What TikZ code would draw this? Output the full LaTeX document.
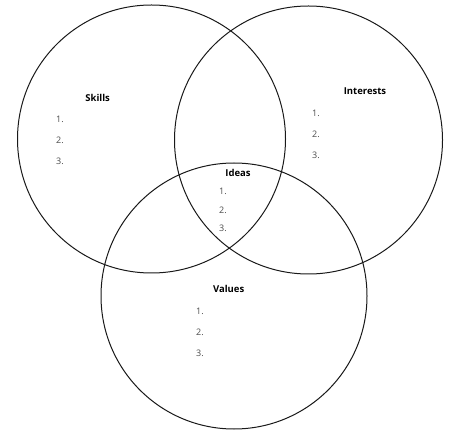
\documentclass[tikz,border=0pt]{standalone}
\usepackage{fontspec}
\setmainfont{Open Sans}
\begin{document}
\begin{tikzpicture}[x=1pt, y=-1pt,
    ring/.style={line width=1pt, black!90},
    head/.style={font=\bfseries\fontsize{9.5}{11}\selectfont},
    num/.style={text=black!70, font=\fontsize{9}{10}\selectfont}]
    \useasboundingbox (0,0) rectangle (468,435);

    % the three circles
    \draw[ring] (151.5,139) circle (134pt);
    \draw[ring] (308.5,140) circle (134pt);
    \draw[ring] (234,296) circle (133pt);

    % Skills
    \node[head] (skills) at (97.7,97.5) {Skills};
    \node[num] (skills1) at (60,119) {1.};
    \node[num] (skills2) at (60,140) {2.};
    \node[num] (skills3) at (60,161) {3.};

    % Interests
    \node[head] (interests) at (365,91) {Interests};
    \node[num] (interests1) at (316,113) {1.};
    \node[num] (interests2) at (316,134) {2.};
    \node[num] (interests3) at (316,155) {3.};

    % Ideas (middle)
    \node[head] (ideas) at (238,173) {Ideas};
    \node[num] (ideas1) at (223,191) {1.};
    \node[num] (ideas2) at (223,210) {2.};
    \node[num] (ideas3) at (223,228) {3.};

    % Values
    \node[head] (values) at (228.7,289) {Values};
    \node[num] (values1) at (200,311) {1.};
    \node[num] (values2) at (200,332) {2.};
    \node[num] (values3) at (200,353) {3.};
\end{tikzpicture}
\end{document}
